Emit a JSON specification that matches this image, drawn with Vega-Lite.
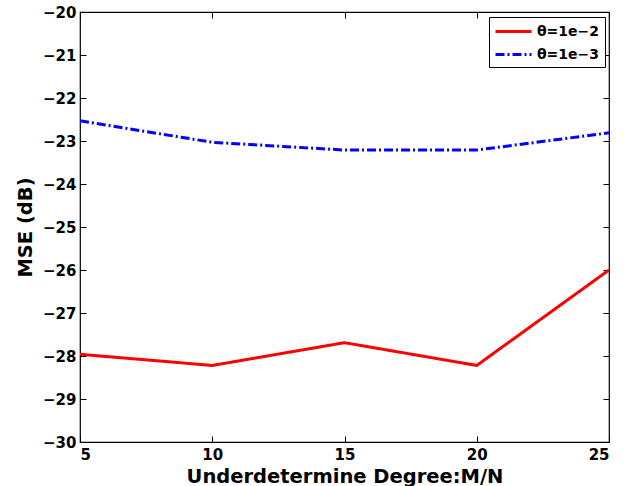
{
  "$schema": "https://vega.github.io/schema/vega-lite/v6.json",
  "width": 529,
  "height": 430,
  "autosize": "none",
  "padding": {"left": 80, "top": 12, "right": 21, "bottom": 44},
  "background": "white",
  "config": {
    "font": "DejaVu Sans",
    "view": {"stroke": "black", "strokeWidth": 1.2},
    "axis": {
      "domain": false,
      "grid": false,
      "tickColor": "black",
      "tickSize": -6,
      "tickWidth": 1,
      "labelFont": "DejaVu Sans",
      "labelFontWeight": "bold",
      "labelFontSize": 15,
      "labelColor": "black",
      "titleFont": "DejaVu Sans",
      "titleFontWeight": "bold",
      "titleFontSize": 19.5,
      "titleColor": "black"
    }
  },
  "data": {
    "values": [
      {"x": 5, "mse": -27.96, "series": "θ=1e−2"},
      {"x": 10, "mse": -28.22, "series": "θ=1e−2"},
      {"x": 15, "mse": -27.69, "series": "θ=1e−2"},
      {"x": 20, "mse": -28.22, "series": "θ=1e−2"},
      {"x": 25, "mse": -26.0, "series": "θ=1e−2"},
      {"x": 5, "mse": -22.53, "series": "θ=1e−3"},
      {"x": 10, "mse": -23.03, "series": "θ=1e−3"},
      {"x": 15, "mse": -23.21, "series": "θ=1e−3"},
      {"x": 20, "mse": -23.21, "series": "θ=1e−3"},
      {"x": 25, "mse": -22.81, "series": "θ=1e−3"}
    ]
  },
  "layer": [
    {
      "mark": {"type": "line", "strokeWidth": 3, "clip": true},
      "encoding": {
        "x": {
          "field": "x", "type": "quantitative",
          "scale": {"domain": [5, 25], "nice": false},
          "axis": {"orient": "bottom", "values": [5, 10, 15, 20, 25], "title": "Underdetermine Degree:M/N", "labelPadding": 11, "titlePadding": 5}
        },
        "y": {
          "field": "mse", "type": "quantitative",
          "scale": {"domain": [-30, -20], "nice": false},
          "axis": {"orient": "left", "values": [-30, -29, -28, -27, -26, -25, -24, -23, -22, -21, -20], "title": "MSE (dB)", "labelPadding": 10, "titlePadding": 7}
        },
        "color": {
          "field": "series", "type": "nominal",
          "scale": {"domain": ["θ=1e−2", "θ=1e−3"], "range": ["#ff0000", "#0000ff"]},
          "legend": {
            "title": null,
            "orient": "none",
            "legendX": 409,
            "legendY": 5,
            "strokeColor": "black",
            "fillColor": "white",
            "padding": 5,
            "symbolType": "M-2.25,0H2.25",
            "symbolSize": 256,
            "symbolStrokeWidth": 3,
            "symbolOffset": 10,
            "labelOffset": 14,
            "labelFont": "DejaVu Sans",
            "labelFontWeight": "bold",
            "labelFontSize": 14,
            "labelColor": "black",
            "rowPadding": 6
          }
        },
        "strokeDash": {
          "field": "series", "type": "nominal",
          "scale": {"domain": ["θ=1e−2", "θ=1e−3"], "range": [[1, 0], [9, 3, 2, 3]]},
          "legend": null
        }
      }
    },
    {
      "mark": {"type": "line", "opacity": 0},
      "encoding": {
        "x": {
          "field": "x", "type": "quantitative",
          "axis": {"orient": "top", "values": [5, 10, 15, 20, 25], "labels": false, "title": null}
        },
        "y": {
          "field": "mse", "type": "quantitative",
          "axis": {"orient": "right", "values": [-30, -29, -28, -27, -26, -25, -24, -23, -22, -21, -20], "labels": false, "title": null}
        },
        "detail": {"field": "series"}
      }
    }
  ],
  "resolve": {"axis": {"x": "independent", "y": "independent"}}
}
